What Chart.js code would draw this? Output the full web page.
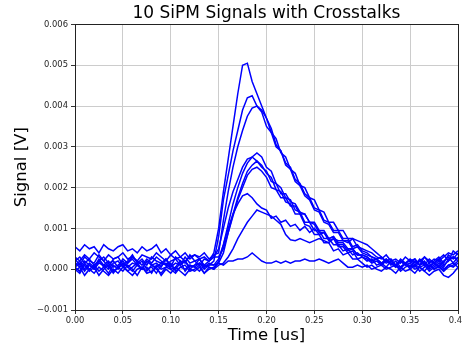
<!DOCTYPE html>
<html>
<head>
<meta charset="utf-8">
<script src="https://cdn.jsdelivr.net/npm/chart.js@4.4.1/dist/chart.umd.min.js"></script>
<style>
  html, body { margin: 0; padding: 0; background: #fff; }
  canvas { display: block; }
</style>
</head>
<body>
<canvas id="sipm-chart" width="462" height="348"></canvas>
<script>
  // time axis in us, signals in mV (axis labels show volts)
  var time_us = [
    0.000, 0.005, 0.010, 0.015, 0.020, 0.025, 0.030, 0.035, 0.040, 0.045,
    0.050, 0.055, 0.060, 0.065, 0.070, 0.075, 0.080, 0.085, 0.090, 0.095,
    0.100, 0.105, 0.110, 0.115, 0.120, 0.125, 0.130, 0.135, 0.140, 0.145,
    0.150, 0.155, 0.160, 0.165, 0.170, 0.175, 0.180, 0.185, 0.190, 0.195,
    0.200, 0.205, 0.210, 0.215, 0.220, 0.225, 0.230, 0.235, 0.240, 0.245,
    0.250, 0.255, 0.260, 0.265, 0.270, 0.275, 0.280, 0.285, 0.290, 0.295,
    0.300, 0.305, 0.310, 0.315, 0.320, 0.325, 0.330, 0.335, 0.340, 0.345,
    0.350, 0.355, 0.360, 0.365, 0.370, 0.375, 0.380, 0.385, 0.390, 0.395,
    0.400
  ];

  var sig1_mV = [
    0.25, 0.10, 0.30, 0.20, 0.15, 0.35, 0.20, 0.05, 0.25, 0.30,
    0.10, 0.20, 0.35, 0.15, 0.25, 0.10, 0.30, 0.20, 0.15, 0.25,
    0.05, 0.30, 0.20, 0.15, 0.35, 0.20, 0.10, 0.25, 0.20, 0.40,
    1.00, 1.90, 2.70, 3.50, 4.30, 5.00, 5.05, 4.60, 4.30, 4.00,
    3.70, 3.45, 3.05, 2.90, 2.55, 2.45, 2.15, 2.05, 1.80, 1.70,
    1.45, 1.40, 1.15, 1.10, 0.90, 0.90, 0.70, 0.70, 0.50, 0.55,
    0.40, 0.35, 0.30, 0.25, 0.15, 0.25, 0.10, 0.20, 0.05, 0.15,
    0.20, 0.10, 0.25, 0.15, 0.05, 0.20, 0.30, 0.15, 0.35, 0.25,
    0.40
  ];
  var sig2_mV = [
    0.05, 0.15, -0.05, 0.10, 0.00, 0.20, 0.05, -0.10, 0.10, 0.00,
    0.15, 0.05, -0.05, 0.10, 0.20, 0.00, 0.05, -0.10, 0.10, 0.15,
    0.00, 0.05, 0.20, -0.05, 0.10, 0.05, 0.15, 0.00, 0.10, 0.20,
    0.80, 1.70, 2.30, 2.90, 3.40, 3.90, 4.20, 4.25, 4.00, 3.85,
    3.50, 3.35, 3.00, 2.90, 2.60, 2.50, 2.20, 2.10, 1.85, 1.75,
    1.50, 1.45, 1.20, 1.15, 0.95, 0.95, 0.75, 0.75, 0.55, 0.60,
    0.45, 0.40, 0.30, 0.25, 0.30, 0.15, 0.20, 0.10, 0.25, 0.15,
    0.05, 0.20, 0.10, 0.15, 0.00, 0.10, 0.20, 0.05, 0.25, 0.30,
    0.20
  ];
  var sig3_mV = [
    0.55, 0.45, 0.60, 0.50, 0.55, 0.40, 0.60, 0.50, 0.45, 0.55,
    0.60, 0.45, 0.50, 0.40, 0.55, 0.45, 0.50, 0.60, 0.40, 0.50,
    0.35, 0.45, 0.30, 0.40, 0.25, 0.35, 0.30, 0.40, 0.25, 0.35,
    0.40, 1.20, 1.90, 2.50, 3.00, 3.40, 3.75, 3.95, 4.00, 3.90,
    3.70, 3.35, 3.20, 2.85, 2.75, 2.45, 2.35, 2.05, 2.00, 1.75,
    1.70, 1.45, 1.40, 1.15, 1.15, 0.95, 0.95, 0.75, 0.75, 0.55,
    0.50, 0.45, 0.40, 0.30, 0.25, 0.35, 0.20, 0.25, 0.15, 0.30,
    0.20, 0.25, 0.10, 0.30, 0.20, 0.15, 0.25, 0.35, 0.20, 0.45,
    0.35
  ];
  var sig4_mV = [
    0.00, -0.10, 0.10, -0.05, 0.05, -0.15, 0.00, 0.10, -0.10, 0.05,
    -0.05, 0.10, 0.00, -0.15, 0.05, -0.05, 0.10, 0.00, -0.10, 0.05,
    0.00, -0.10, 0.05, 0.10, -0.05, 0.00, 0.10, -0.10, 0.05, 0.00,
    0.20, 0.60, 1.10, 1.60, 2.00, 2.35, 2.60, 2.75, 2.85, 2.75,
    2.50, 2.40, 2.10, 2.00, 1.75, 1.70, 1.45, 1.40, 1.15, 1.15,
    0.95, 0.95, 0.75, 0.75, 0.60, 0.60, 0.45, 0.50, 0.35, 0.40,
    0.30, 0.20, 0.25, 0.10, 0.15, 0.05, 0.20, 0.10, 0.00, 0.15,
    0.05, 0.10, -0.05, 0.05, 0.15, 0.00, 0.10, -0.05, 0.05, 0.10,
    0.20
  ];
  var sig5_mV = [
    0.20, 0.30, 0.15, 0.25, 0.10, 0.20, 0.30, 0.15, 0.20, 0.05,
    0.25, 0.15, 0.30, 0.20, 0.10, 0.25, 0.15, 0.30, 0.20, 0.10,
    0.20, 0.25, 0.10, 0.30, 0.15, 0.20, 0.25, 0.10, 0.20, 0.30,
    0.50, 1.00, 1.50, 1.90, 2.20, 2.50, 2.70, 2.75, 2.65, 2.50,
    2.40, 2.15, 2.10, 1.85, 1.85, 1.65, 1.60, 1.40, 1.35, 1.15,
    1.10, 0.90, 0.90, 0.70, 0.75, 0.55, 0.55, 0.40, 0.45, 0.25,
    0.30, 0.25, 0.15, 0.20, 0.10, 0.25, 0.15, 0.05, 0.20, 0.10,
    0.15, 0.25, 0.10, 0.20, 0.05, 0.15, 0.25, 0.10, 0.20, 0.30,
    0.25
  ];
  var sig6_mV = [
    -0.05, 0.05, -0.15, 0.00, -0.10, 0.05, -0.05, -0.15, 0.00, -0.10,
    0.05, -0.05, -0.15, 0.00, 0.05, -0.10, -0.05, 0.05, -0.15, 0.00,
    -0.10, 0.05, -0.05, -0.15, 0.00, -0.05, 0.05, -0.10, 0.00, 0.05,
    0.15, 0.40, 0.90, 1.35, 1.75, 2.10, 2.40, 2.55, 2.65, 2.55,
    2.35, 2.25, 1.95, 1.90, 1.65, 1.60, 1.35, 1.35, 1.10, 1.05,
    0.85, 0.85, 0.65, 0.65, 0.45, 0.50, 0.35, 0.40, 0.25, 0.25,
    0.15, 0.05, 0.10, 0.00, -0.05, 0.05, 0.00, -0.10, 0.05, -0.05,
    0.00, -0.10, 0.05, -0.05, -0.15, -0.05, 0.00, -0.15, -0.20, -0.10,
    0.05
  ];
  var sig7_mV = [
    0.30, 0.20, 0.35, 0.25, 0.40, 0.30, 0.20, 0.35, 0.25, 0.30,
    0.40, 0.25, 0.30, 0.20, 0.35, 0.30, 0.25, 0.40, 0.30, 0.20,
    0.35, 0.25, 0.30, 0.20, 0.30, 0.35, 0.25, 0.30, 0.20, 0.30,
    0.30, 0.50, 0.90, 1.30, 1.70, 2.00, 2.30, 2.45, 2.50, 2.40,
    2.25, 2.00, 1.95, 1.75, 1.75, 1.55, 1.55, 1.35, 1.35, 1.15,
    1.15, 0.95, 0.95, 0.75, 0.80, 0.65, 0.65, 0.50, 0.50, 0.35,
    0.35, 0.30, 0.20, 0.25, 0.15, 0.20, 0.25, 0.10, 0.20, 0.15,
    0.25, 0.15, 0.20, 0.30, 0.15, 0.25, 0.20, 0.30, 0.40, 0.35,
    0.45
  ];
  var sig8_mV = [
    0.10, 0.20, 0.00, 0.15, 0.05, 0.25, 0.10, 0.00, 0.15, 0.20,
    0.05, 0.15, 0.25, 0.10, 0.00, 0.20, 0.10, 0.15, 0.05, 0.25,
    0.10, 0.00, 0.15, 0.20, 0.05, 0.10, 0.25, 0.05, 0.15, 0.10,
    0.25, 0.60, 1.00, 1.35, 1.60, 1.80, 1.85, 1.75, 1.60, 1.50,
    1.45, 1.25, 1.30, 1.15, 1.20, 1.05, 1.10, 0.95, 1.05, 0.90,
    1.00, 0.85, 0.90, 0.75, 0.80, 0.60, 0.60, 0.45, 0.50, 0.35,
    0.35, 0.30, 0.20, 0.25, 0.10, 0.20, 0.15, 0.05, 0.20, 0.10,
    0.15, 0.05, 0.20, 0.10, 0.25, 0.15, 0.05, 0.20, 0.30, 0.15,
    0.30
  ];
  var sig9_mV = [
    0.05, -0.05, 0.15, 0.00, 0.10, -0.05, 0.05, 0.15, -0.05, 0.05,
    0.10, -0.05, 0.05, 0.15, 0.00, 0.05, -0.10, 0.10, 0.00, 0.05,
    0.15, -0.05, 0.05, 0.00, 0.10, 0.05, -0.05, 0.10, 0.05, 0.00,
    0.10, 0.15, 0.30, 0.50, 0.75, 0.95, 1.15, 1.30, 1.45, 1.40,
    1.35, 1.30, 1.20, 1.10, 0.85, 0.72, 0.70, 0.75, 0.70, 0.65,
    0.70, 0.75, 0.70, 0.65, 0.75, 0.70, 0.70, 0.65, 0.75, 0.70,
    0.65, 0.60, 0.50, 0.40, 0.30, 0.20, 0.15, 0.10, 0.05, 0.15,
    0.00, 0.10, 0.05, -0.05, 0.10, 0.00, 0.05, -0.05, 0.10, 0.15,
    0.05
  ];
  var sig10_mV = [
    0.15, 0.05, 0.20, 0.10, 0.00, 0.15, 0.10, 0.20, 0.05, 0.10,
    0.20, 0.05, 0.15, 0.10, 0.00, 0.20, 0.10, 0.05, 0.15, 0.10,
    0.05, 0.15, 0.10, 0.20, 0.00, 0.10, 0.15, 0.05, 0.10, 0.10,
    0.15, 0.10, 0.20, 0.20, 0.25, 0.25, 0.30, 0.40, 0.30, 0.20,
    0.15, 0.15, 0.20, 0.15, 0.20, 0.15, 0.20, 0.20, 0.25, 0.20,
    0.20, 0.25, 0.20, 0.15, 0.20, 0.25, 0.15, 0.05, 0.05, 0.10,
    0.05, 0.10, 0.00, 0.05, 0.10, 0.00, 0.05, 0.10, -0.05, 0.05,
    0.10, 0.00, 0.05, 0.10, -0.05, 0.05, 0.15, 0.00, 0.10, 0.05,
    0.15
  ];

  var signals = [sig1_mV, sig2_mV, sig3_mV, sig4_mV, sig5_mV,
                 sig6_mV, sig7_mV, sig8_mV, sig9_mV, sig10_mV];

  var fontFam = "'DejaVu Sans', sans-serif";
  var tickCol = '#262626';

  var datasets = signals.map(function (sig, k) {
    return {
      label: 'Signal ' + (k + 1),
      data: time_us.map(function (t, i) { return { x: t, y: sig[i] }; }),
      borderColor: '#0000ff',
      borderWidth: 1.5,
      pointRadius: 0,
      tension: 0,
      fill: false
    };
  });

  // matplotlib style box round the plot
  var frame = {
    id: 'frame',
    afterDatasetsDraw: function (chart) {
      var a = chart.chartArea, c = chart.ctx;
      c.save();
      c.strokeStyle = '#222';
      c.lineWidth = 1;
      c.strokeRect(Math.round(a.left) + 0.5, Math.round(a.top) + 0.5,
                   Math.round(a.right - a.left), Math.round(a.bottom - a.top));
      c.restore();
    }
  };

  var ctx = document.getElementById('sipm-chart').getContext('2d');
  new Chart(ctx, {
    type: 'line',
    data: { datasets: datasets },
    plugins: [frame],
    options: {
      responsive: false,
      animation: false,
      devicePixelRatio: 1,
      layout: { padding: { left: 0, right: 4, top: 0, bottom: 0 } },
      plugins: {
        legend: { display: false },
        tooltip: { enabled: false },
        title: {
          display: true,
          fullSize: false,
          text: '10 SiPM Signals with Crosstalks',
          color: '#000',
          font: { family: fontFam, size: 17, weight: 'normal' },
          padding: { top: 3, bottom: 1 }
        }
      },
      scales: {
        x: {
          type: 'linear',
          min: 0,
          max: 0.4,
          afterFit: function (s) { s.height = 38; s.paddingLeft = 0; s.paddingRight = 0; },
          border: { display: false },
          grid: { color: '#cccccc', lineWidth: 1, tickColor: '#333', tickLength: 4 },
          ticks: {
            stepSize: 0.05,
            maxRotation: 0,
            autoSkip: false,
            padding: 2,
            color: tickCol,
            font: { family: fontFam, size: 8.4 },
            callback: function (v) { return v.toFixed(2); }
          },
          title: {
            display: true,
            text: 'Time [us]',
            color: '#000',
            font: { family: fontFam, size: 16.5 },
            padding: { top: 0, bottom: 2 }
          }
        },
        y: {
          min: -1,
          max: 6,
          afterFit: function (s) { s.width = 75; s.paddingTop = 0; s.paddingBottom = 0; },
          border: { display: false },
          grid: { color: '#cccccc', lineWidth: 1, tickColor: '#333', tickLength: 4 },
          ticks: {
            stepSize: 1,
            padding: 3,
            color: tickCol,
            font: { family: fontFam, size: 8.4 },
            callback: function (v) { return (v / 1000).toFixed(3).replace('-', '\u2212'); }
          },
          title: {
            display: true,
            text: 'Signal [V]',
            color: '#000',
            font: { family: fontFam, size: 16.5 },
            padding: { top: 12, bottom: 0 }
          }
        }
      }
    }
  });
</script>
</body>
</html>
